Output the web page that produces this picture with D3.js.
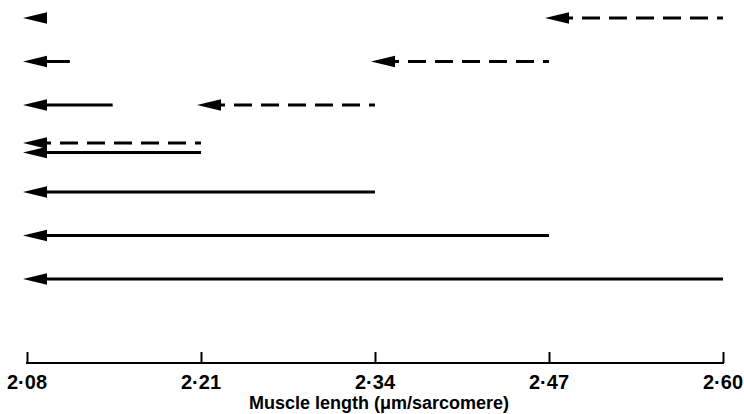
<!DOCTYPE html>
<html>
<head>
<meta charset="utf-8">
<script src="https://cdn.jsdelivr.net/npm/d3@7"></script>
<style>
  body { margin: 0; background: #fff; }
  svg { display: block; }
</style>
</head>
<body>
<svg id="chart" width="744" height="414"></svg>
<script>
// muscle length ticks (um/sarcomere)
var tick_values = [2.08, 2.21, 2.34, 2.47, 2.60];
var tick_labels = ["2·08", "2·21", "2·34", "2·47", "2·60"];

// solid arrows: shortening from length "from" to length "to", one per row
var solid_rows = [0, 1, 2, 3, 4, 5, 6];
var solid_from = [2.094, 2.112, 2.144, 2.21, 2.34, 2.47, 2.60];
var solid_to   = [2.08, 2.08, 2.08, 2.08, 2.08, 2.08, 2.08];

// dashed arrows
var dashed_rows = [0, 1, 2, 3];
var dashed_from = [2.60, 2.47, 2.34, 2.21];
var dashed_to   = [2.47, 2.34, 2.21, 2.08];

var axis_title = "Muscle length (\u03bcm/sarcomere)";

var svg = d3.select("#chart");
var x = d3.scaleLinear().domain([2.08, 2.60]).range([27, 723]);
var y = d3.scaleLinear().domain([0, 6]).range([18, 279]);
var headLen = 24, headHalf = 5.8, tipShift = 4;

var arrows = [];
for (var i = 0; i < solid_rows.length; i++) {
    arrows.push({row: solid_rows[i], from: solid_from[i], to: solid_to[i], dashed: false});
}
for (var j = 0; j < dashed_rows.length; j++) {
    arrows.push({row: dashed_rows[j], from: dashed_from[j], to: dashed_to[j], dashed: true});
}

// rows where a dashed and solid arrow overlap in x get split apart
function rowY(d) {
    var shared = arrows.filter(function (a) {
        return a.row == d.row && a !== d && a.to == d.to;
    });
    if (shared.length == 0) return y(d.row);
    return y(d.row) + (d.dashed ? -5.5 : 4);
}

var g = svg.append("g");
g.selectAll("g.arrow")
    .data(arrows)
    .enter()
    .append("g")
    .attr("class", "arrow")
    .each(function (d) {
        var yy = rowY(d);
        var tip = x(d.to) - tipShift;
        var base = tip + headLen;
        var tail = x(d.from);
        if (tail > base) {
            d3.select(this).append("line")
                .attr("x1", base - 2)
                .attr("x2", tail)
                .attr("y1", yy)
                .attr("y2", yy)
                .attr("stroke", "#000")
                .attr("stroke-width", 3)
                .attr("stroke-dasharray", d.dashed ? "6,9,18,9,18,9,18,9,18,9,18,9,18,9,18,9,18,9" : null);
        }
        d3.select(this).append("path")
            .attr("d", "M" + tip + "," + yy +
                " L" + base + "," + (yy - headHalf) +
                " L" + base + "," + (yy + headHalf) + " Z")
            .attr("fill", "#000");
    });

// axis
var axis = d3.axisTop(x)
    .tickValues(tick_values)
    .tickSize(11)
    .tickFormat("");
var ax = svg.append("g")
    .attr("transform", "translate(0,363)")
    .call(axis);
ax.select(".domain").remove();
ax.selectAll(".tick line").attr("stroke", "#000").attr("stroke-width", 2);
ax.append("line")
    .attr("x1", x(2.08) - 1)
    .attr("x2", x(2.60) + 1)
    .attr("stroke", "#000")
    .attr("stroke-width", 2);

svg.selectAll("text.ticklabel")
    .data(tick_values)
    .enter()
    .append("text")
    .attr("class", "ticklabel")
    .attr("x", function (d) { return x(d); })
    .attr("y", 389)
    .attr("text-anchor", "middle")
    .style("font-family", "'Liberation Sans', Arial, sans-serif")
    .style("font-weight", "bold")
    .style("font-size", "20px")
    .text(function (d, i) { return tick_labels[i]; });

svg.append("text")
    .attr("x", 379)
    .attr("y", 409)
    .attr("text-anchor", "middle")
    .style("font-family", "'Liberation Sans', Arial, sans-serif")
    .style("font-weight", "bold")
    .style("font-size", "18px")
    .text(axis_title);
</script>
</body>
</html>
